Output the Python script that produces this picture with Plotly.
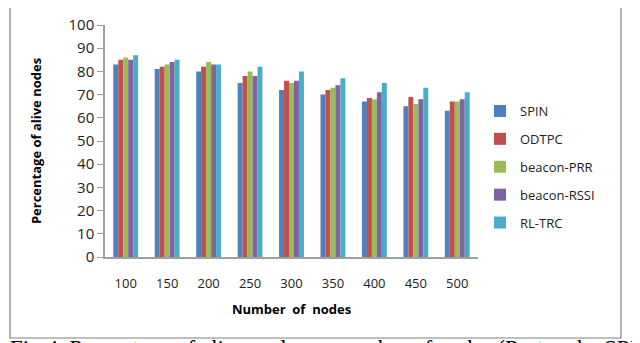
import plotly.graph_objects as go

categories = ["100", "150", "200", "250", "300", "350", "400", "450", "500"]
spin = [83, 81, 80, 75, 72, 70, 67, 65, 63]
odtpc = [85, 82, 82, 78, 76, 72, 68.5, 69, 67]
beacon_prr = [86, 83, 84, 80, 75, 73, 68, 66, 67]
beacon_rssi = [85, 84, 83, 78, 76, 74, 71, 68, 68]
rl_trc = [87, 85, 83, 82, 80, 77, 75, 73, 71]

series = [
    ("SPIN", spin, "#4F81BD"),
    ("ODTPC", odtpc, "#C0504D"),
    ("beacon-PRR", beacon_prr, "#9BBB59"),
    ("beacon-RSSI", beacon_rssi, "#8064A2"),
    ("RL-TRC", rl_trc, "#4BACC6"),
]

fig = go.Figure()
for name, vals, col in series:
    fig.add_trace(go.Bar(x=categories, y=vals, name=name, legendgroup=name,
                         marker=dict(color=col, line=dict(width=0))))

L, R, T, B = 97, 470, 17, 249
W, H = 640, 343
pw, ph = R - L, B - T

def px(x):
    return (x - L) / pw

def py(y):
    return (B - y) / ph

font = "Open Sans, Lato, sans-serif"

fig.update_layout(
    width=W, height=H,
    margin=dict(l=L, r=W - R, t=T, b=H - B, autoexpand=False),
    paper_bgcolor="white", plot_bgcolor="white",
    barmode="group", bargap=0.4, bargroupgap=0,
    font=dict(family=font, size=13, color="#222"),
    showlegend=True,
    legend=dict(x=px(472), y=py(88), xanchor="left", yanchor="top",
                font=dict(family=font, size=13, color="#222"),
                tracegroupgap=8, itemwidth=30, bgcolor="rgba(0,0,0,0)"),
    xaxis=dict(showline=True, linecolor="#A0A0A0", linewidth=1.5,
               ticks="", showgrid=False, ticklabelstandoff=14,
               tickfont=dict(size=13),
               title=dict(text="<b>Number  of  nodes</b>", font=dict(size=13, color="#000"),
                          standoff=14)),
    yaxis=dict(range=[0, 100], dtick=10, showline=True, linecolor="#A0A0A0", linewidth=1.5,
               ticks="outside", ticklen=6, tickcolor="#A0A0A0", showgrid=False,
               tickfont=dict(size=15), zeroline=False,
               title=dict(text="<b>Percentage of alive nodes</b>", font=dict(size=13, color="#000"),
                          standoff=24)),
    shapes=[dict(type="rect", xref="paper", yref="paper",
                 x0=px(2), x1=px(613), y0=py(330), y1=py(-2),
                 line=dict(color="#808080", width=1.2), fillcolor="rgba(0,0,0,0)", layer="below")],
    annotations=[dict(text="Fig.4. Percentage of alive nodes vs number of nodes (Protocols: SPIN, ODTPC)",
                      xref="paper", yref="paper", x=px(0), y=py(326), xanchor="left", yanchor="top",
                      showarrow=False, align="left",
                      font=dict(family="Liberation Serif, Times New Roman, serif", size=23, color="#000"))],
)

fig.write_html("out.html")
